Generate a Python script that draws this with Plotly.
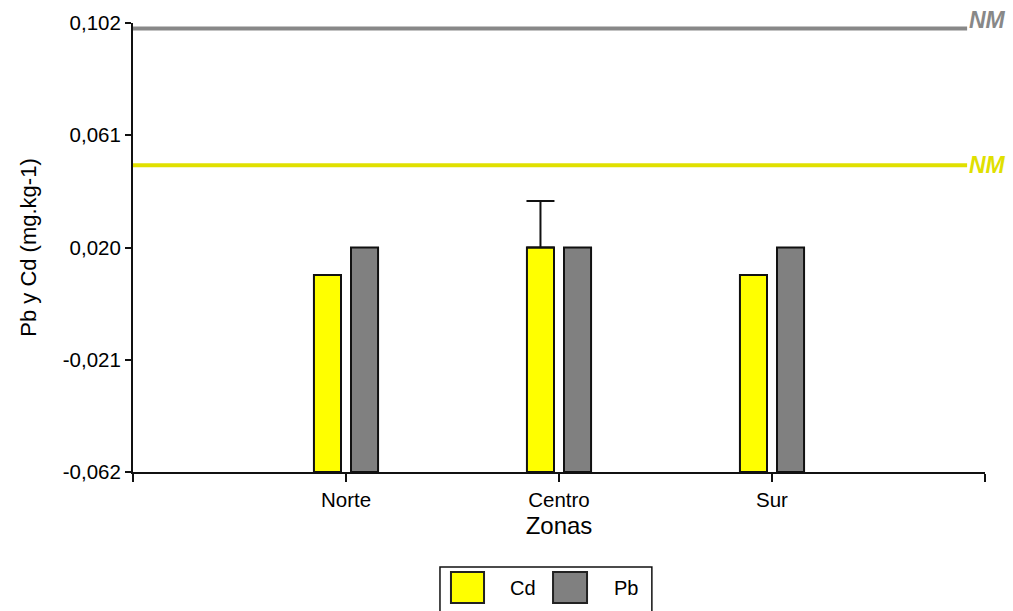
import plotly.graph_objects as go

# Zones sampled and mean metal content (mg.kg-1)
zonas = ["Norte", "Centro", "Sur"]
cd_vals = [0.010, 0.020, 0.010]
pb_vals = [0.020, 0.020, 0.020]
cd_err = [0.0, 0.017, 0.0]

# Maximum permitted levels (NM)
nm_pb = 0.100
nm_cd = 0.050

# Y axis ticks
y_ticks = [-0.062, -0.021, 0.020, 0.061, 0.102]
y_tick_labels = ["-0,062", "-0,021", "0,020", "0,061", "0,102"]

FONT = "Liberation Sans, Arial, sans-serif"
BASE = y_ticks[0]          # bars rise from the axis floor
x_pos = list(range(1, len(zonas) + 1))

fig = go.Figure()
fig.add_trace(go.Bar(
    x=x_pos, y=[v - BASE for v in cd_vals], base=BASE, name="Cd",
    marker=dict(color="#ffff00", line=dict(color="#111111", width=2)),
    error_y=dict(type="data", array=cd_err, arrayminus=[0] * len(cd_err),
                 symmetric=False, color="#111111", thickness=2, width=14),
    showlegend=False,
))
fig.add_trace(go.Bar(
    x=x_pos, y=[v - BASE for v in pb_vals], base=BASE, name="Pb",
    marker=dict(color="#808080", line=dict(color="#111111", width=2)),
    showlegend=False,
))

# NM reference lines and labels
for level, color, shift in [(nm_pb, "#888888", 8), (nm_cd, "#e0e000", 0)]:
    fig.add_shape(type="line", xref="paper", yref="y", x0=0, x1=0.979,
                  y0=level, y1=level, line=dict(color=color, width=4), layer="below")
    fig.add_annotation(text="<b><i>NM</i></b>", xref="paper", yref="y",
                       x=0.979, y=level, xanchor="left", yanchor="middle",
                       yshift=shift, showarrow=False,
                       font=dict(family=FONT, size=23, color=color))

# Legend box below the axis
fig.add_shape(type="rect", xref="paper", yref="paper", x0=0.3603, x1=0.609,
              y0=-0.33, y1=-0.2116, line=dict(color="#111111", width=1.5),
              fillcolor="white")
for name, color, sx0, sx1, tx in [("Cd", "#ffff00", 0.3732, 0.412, 0.4577),
                                  ("Pb", "#808080", 0.493, 0.5329, 0.5786)]:
    fig.add_shape(type="rect", xref="paper", yref="paper", x0=sx0, x1=sx1,
                  y0=-0.2918, y1=-0.2227, fillcolor=color,
                  line=dict(color="#222222", width=2))
    fig.add_annotation(text=name, xref="paper", yref="paper", x=tx, y=-0.2584,
                       xanchor="center", yanchor="middle", showarrow=False,
                       font=dict(family=FONT, size=20, color="black"))

fig.update_layout(
    width=1013, height=611,
    margin=dict(l=133, r=28, t=23, b=139, autoexpand=False),
    paper_bgcolor="white", plot_bgcolor="white",
    barmode="group", bargap=0.652, bargroupgap=0.27,
    font=dict(family=FONT, size=20, color="black"),
)
fig.update_xaxes(
    range=[0, len(zonas) + 1], tickvals=[0] + x_pos + [len(zonas) + 1],
    ticktext=[""] + zonas + [""], showgrid=False, zeroline=False,
    showline=True, linecolor="#111111", linewidth=2,
    ticks="outside", ticklen=8, tickwidth=2, tickcolor="#111111",
    tickfont=dict(size=20.5),
    title=dict(text="Zonas", font=dict(size=24), standoff=8),
)
fig.update_yaxes(
    range=[y_ticks[0], y_ticks[-1]], tickvals=y_ticks, ticktext=y_tick_labels,
    showgrid=False, zeroline=False,
    showline=True, linecolor="#111111", linewidth=2,
    ticks="outside", ticklen=6, tickwidth=2, tickcolor="#111111",
    tickfont=dict(size=20.5),
    title=dict(text="Pb y Cd (mg.kg-1)", font=dict(size=22), standoff=20),
)

fig.write_html("out.html")
